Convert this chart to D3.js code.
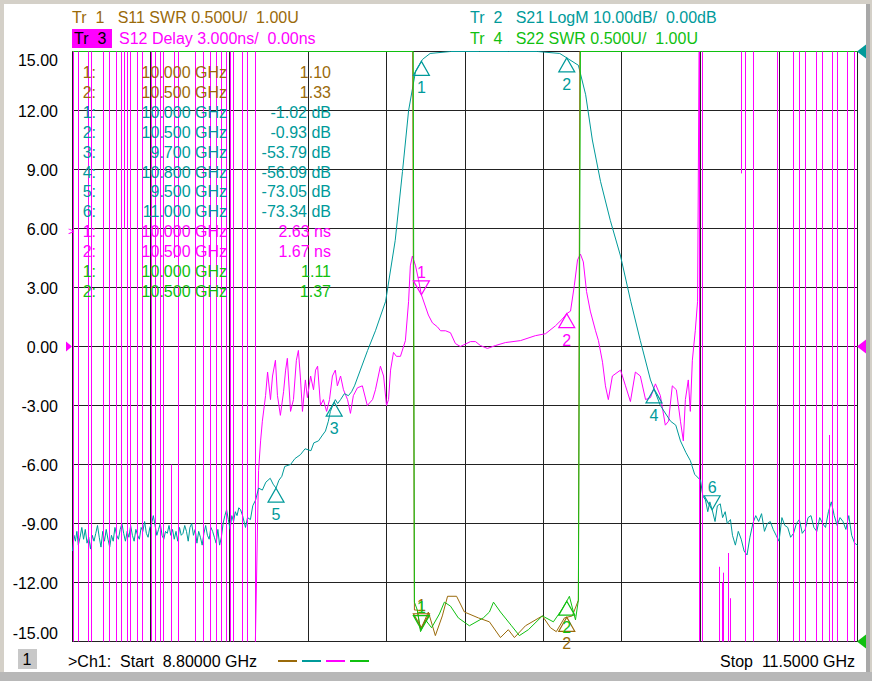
<!DOCTYPE html>
<html><head><meta charset="utf-8">
<script src="https://cdn.jsdelivr.net/npm/d3@7"></script>
<style>body{margin:0;background:#d4d0c8}svg{display:block;font-family:"Liberation Sans",Arial,sans-serif}</style>
</head><body><svg id="c" width="872" height="681"></svg>
<script>
const startGHz=8.8, stopGHz=11.5;
const yTicks=[15,12,9,6,3,0,-3,-6,-9,-12,-15];
const colS11="#9a6a0a", colS21="#009a9a", colS12="#ff00ff", colS22="#10c010";

const s21=[[8.800,-10.4],[8.805,-9.6],[8.810,-9.9],[8.815,-9.4],[8.820,-10.1],[8.826,-9.7],[8.832,-9.2],[8.838,-9.8],[8.844,-9.3],[8.850,-10.0],[8.856,-9.7],[8.862,-10.3],[8.868,-9.6],[8.874,-9.9],[8.880,-9.5],[8.886,-9.1],[8.892,-9.7],[8.898,-10.2],[8.904,-9.4],[8.910,-9.9],[8.916,-9.3],[8.922,-9.8],[8.928,-10.2],[8.934,-9.6],[8.940,-9.9],[8.946,-9.2],[8.952,-9.6],[8.958,-9.8],[8.964,-9.3],[8.970,-9.0],[8.976,-9.5],[8.982,-9.9],[8.988,-9.4],[8.994,-9.7],[9.000,-9.1],[9.006,-9.6],[9.012,-9.9],[9.018,-9.3],[9.024,-9.6],[9.030,-9.8],[9.036,-9.2],[9.042,-9.4],[9.048,-8.9],[9.054,-9.5],[9.060,-9.7],[9.066,-9.2],[9.072,-9.0],[9.078,-8.6],[9.084,-9.1],[9.090,-9.6],[9.096,-9.3],[9.102,-9.0],[9.108,-9.6],[9.114,-9.8],[9.120,-9.4],[9.126,-9.5],[9.132,-9.1],[9.138,-9.6],[9.144,-9.3],[9.150,-9.8],[9.156,-9.4],[9.162,-9.9],[9.168,-9.2],[9.174,-9.6],[9.180,-9.5],[9.186,-9.1],[9.192,-9.4],[9.198,-9.9],[9.204,-9.2],[9.210,-9.0],[9.216,-9.6],[9.222,-9.3],[9.228,-10.0],[9.234,-9.4],[9.240,-9.7],[9.246,-10.1],[9.252,-9.5],[9.258,-9.1],[9.264,-9.6],[9.270,-9.8],[9.276,-9.2],[9.282,-9.4],[9.288,-9.7],[9.294,-10.0],[9.300,-9.3],[9.306,-10.1],[9.312,-9.7],[9.318,-9.0],[9.324,-8.6],[9.330,-8.3],[9.336,-8.8],[9.342,-9.3],[9.348,-8.6],[9.354,-8.9],[9.360,-8.4],[9.366,-8.6],[9.372,-8.2],[9.378,-8.3],[9.385,-8.6],[9.395,-9.2],[9.402,-8.7],[9.412,-8.8],[9.420,-8.1],[9.430,-7.8],[9.440,-7.2],[9.453,-7.3],[9.465,-6.9],[9.48,-6.7],[9.49,-7.0],[9.50,-7.2],[9.51,-6.8],[9.52,-6.6],[9.53,-6.1],[9.55,-6.0],[9.565,-5.7],[9.584,-5.5],[9.60,-5.2],[9.62,-5.3],[9.63,-4.9],[9.646,-4.8],[9.66,-4.5],[9.67,-4.3],[9.68,-3.8],[9.687,-3.3],[9.695,-3.0],[9.704,-2.7],[9.712,-2.9],[9.722,-2.7],[9.735,-2.4],[9.749,-2.5],[9.76,-2.3],[9.77,-2.0],[9.79,-1.2],[9.815,-0.2],[9.842,0.8],[9.877,2.3],[9.91,5.4],[9.935,8.9],[9.956,12.0],[9.98,14.0],[10.004,14.6],[10.03,14.9],[10.10,15.0],[10.2,15.05],[10.3,15.0],[10.4,15.05],[10.476,14.9],[10.54,14.3],[10.565,12.8],[10.588,10.5],[10.616,8.4],[10.65,6.4],[10.685,4.6],[10.72,2.3],[10.753,0.3],[10.788,-1.7],[10.822,-3.0],[10.857,-3.8],[10.875,-4.0],[10.891,-4.8],[10.91,-5.4],[10.925,-5.8],[10.94,-6.5],[10.96,-6.8],[10.968,-7.6],[10.977,-7.8],[10.985,-8.4],[10.992,-7.9],[11.0,-8.3],[11.01,-8.9],[11.018,-8.1],[11.028,-8.0],[11.036,-8.7],[11.045,-8.4],[11.052,-9.0],[11.063,-8.8],[11.07,-9.6],[11.08,-10.1],[11.09,-9.4],[11.10,-9.8],[11.11,-10.4],[11.12,-10.6],[11.13,-9.7],[11.14,-9.0],[11.15,-8.6],[11.16,-8.9],[11.17,-8.5],[11.18,-9.4],[11.19,-9.0],[11.20,-8.9],[11.21,-9.3],[11.22,-9.6],[11.23,-9.9],[11.24,-8.7],[11.25,-9.1],[11.26,-9.2],[11.27,-9.7],[11.28,-9.5],[11.29,-9.0],[11.30,-8.8],[11.31,-9.5],[11.32,-9.3],[11.33,-8.7],[11.34,-8.6],[11.35,-9.2],[11.36,-9.4],[11.37,-8.7],[11.38,-9.0],[11.39,-9.2],[11.40,-8.4],[11.41,-7.9],[11.42,-8.6],[11.43,-9.1],[11.44,-8.7],[11.45,-8.9],[11.46,-9.3],[11.47,-8.6],[11.48,-9.6],[11.49,-10.0],[11.50,-10.1]];

const delaySpikesLow=[8.803,8.821,8.855,8.865,8.907,8.927,8.951,8.969,8.989,8.999,9.024,9.041,9.072,9.085,9.103,9.113,9.165,9.223,9.251,9.275,9.295,9.312,9.330,9.343,9.354,9.385,9.402,9.429];
const delaySpikesHigh=[10.955,10.966,11.114,11.142,11.224,11.279,11.300,11.321,11.359,11.379,11.414,11.431,11.465,11.489];
const delayPartial=[[11.025,-15,-11.2],[11.035,-15,-12.0],[11.058,-15,-10.5],[11.062,-15,-12.8],[11.040,-15,-11.5],[11.405,-15,-4.5],[8.98,15,6.0],[9.15,15,4.5],[9.14,-15,-6.0],[11.10,15,8.8]];
const delayMid=[[9.429,-15],[9.440,-6.3],[9.447,-4.8],[9.453,-3.8],[9.464,-2.5],[9.471,-1.3],[9.481,-2.7],[9.488,-1.5],[9.498,-0.7],[9.505,-2.5],[9.515,-3.5],[9.526,-2.3],[9.533,-1.2],[9.539,-0.6],[9.550,-3.3],[9.560,-2.7],[9.570,-0.7],[9.577,-0.2],[9.584,-1.6],[9.591,-3.3],[9.601,-1.7],[9.608,-2.6],[9.619,-1.5],[9.629,-2.2],[9.636,-1.2],[9.643,-1.0],[9.653,-3.0],[9.663,-2.7],[9.674,-3.3],[9.684,-2.7],[9.694,-1.5],[9.704,-1.2],[9.711,-2.0],[9.722,-1.5],[9.732,-2.2],[9.746,-2.7],[9.756,-3.4],[9.766,-2.5],[9.780,-2.1],[9.797,-2.0],[9.814,-3.0],[9.832,-2.7],[9.842,-2.2],[9.859,-1.0],[9.870,-1.5],[9.880,-3.0],[9.887,-2.7],[9.894,-1.2],[9.904,-0.3],[9.914,-0.5],[9.928,-0.5],[9.945,0.3],[9.956,2.3],[9.962,4.1],[9.969,4.6],[9.980,4.1],[9.990,3.4],[10.000,2.63],[10.024,1.6],[10.038,1.2],[10.055,1.0],[10.066,0.8],[10.083,0.8],[10.100,0.7],[10.117,0.15],[10.134,0.0],[10.169,0.25],[10.186,0.25],[10.203,0.05],[10.227,-0.1],[10.255,0.05],[10.289,0.2],[10.341,0.3],[10.392,0.55],[10.427,0.65],[10.461,1.05],[10.485,1.4],[10.500,1.67],[10.513,1.8],[10.526,3.1],[10.537,4.4],[10.547,4.7],[10.557,4.3],[10.568,2.8],[10.581,1.8],[10.599,0.8],[10.609,0.3],[10.623,-0.8],[10.633,-2.0],[10.643,-2.7],[10.657,-1.5],[10.685,-1.2],[10.702,-2.0],[10.719,-2.8],[10.736,-1.3],[10.753,-1.5],[10.771,-2.7],[10.788,-2.6],[10.805,-1.9],[10.822,-2.5],[10.839,-4.0],[10.850,-3.8],[10.863,-2.0],[10.877,-2.2],[10.891,-3.8],[10.901,-4.8],[10.908,-2.7],[10.918,-1.7],[10.925,-3.3],[10.932,-0.7],[10.942,0.8],[10.950,2.3],[10.955,15]];

const s11=[[8.80,20],[9.970,20],[9.976,-13.4],[9.986,-13.4],[9.997,-14.4],[10.024,-13.5],[10.048,-14.7],[10.072,-13.7],[10.090,-12.7],[10.121,-12.7],[10.148,-13.5],[10.196,-13.8],[10.234,-14.0],[10.272,-14.8],[10.299,-14.4],[10.320,-14.8],[10.358,-14.2],[10.416,-13.7],[10.444,-14.3],[10.464,-14.5],[10.492,-13.8],[10.519,-13.7],[10.540,-12.9],[10.545,20],[11.50,20]];
const s22=[[8.80,20],[9.972,20],[9.976,-13.0],[9.986,-13.4],[9.997,-14.5],[10.014,-13.9],[10.035,-14.3],[10.062,-13.6],[10.079,-13.0],[10.100,-13.2],[10.127,-13.8],[10.165,-14.2],[10.213,-13.8],[10.234,-13.5],[10.248,-13.0],[10.272,-13.5],[10.310,-14.2],[10.337,-14.7],[10.368,-14.4],[10.416,-13.7],[10.454,-14.0],[10.482,-13.4],[10.502,-12.9],[10.509,-12.7],[10.530,-13.9],[10.540,-12.9],[10.547,20],[11.50,20]];

const markerTable=[
 {n:"1:",f:"10.000 GHz",v:"1.10",c:colS11},
 {n:"2:",f:"10.500 GHz",v:"1.33",c:colS11},
 {n:"1:",f:"10.000 GHz",v:"-1.02 dB",c:colS21},
 {n:"2:",f:"10.500 GHz",v:"-0.93 dB",c:colS21},
 {n:"3:",f:"9.700 GHz",v:"-53.79 dB",c:colS21},
 {n:"4:",f:"10.800 GHz",v:"-56.09 dB",c:colS21},
 {n:"5:",f:"9.500 GHz",v:"-73.05 dB",c:colS21},
 {n:"6:",f:"11.000 GHz",v:"-73.34 dB",c:colS21},
 {n:"1:",f:"10.000 GHz",v:"2.63 ns",c:colS12,act:true},
 {n:"2:",f:"10.500 GHz",v:"1.67 ns",c:colS12},
 {n:"1:",f:"10.000 GHz",v:"1.11",c:colS22},
 {n:"2:",f:"10.500 GHz",v:"1.37",c:colS22}];

const svg=d3.select("#c");
svg.append("rect").attr("x",4).attr("y",4).attr("width",862).attr("height",668).attr("fill","#fff");
svg.append("rect").attr("x",866).attr("y",4).attr("width",4).attr("height",668).attr("fill","#a8a8a8");
const x=d3.scaleLinear().domain([startGHz,stopGHz]).range([72.5,857.5]);
const y=d3.scaleLinear().domain([-15,15]).range([641.5,51.5]).clamp(true);
const snap=v=>Math.round(v-0.5)+0.5;

const g=svg.append("g").attr("shape-rendering","crispEdges");
d3.range(11).forEach(i=>{const gx=snap(x(startGHz+i*(stopGHz-startGHz)/10));
 g.append("line").attr("x1",gx).attr("x2",gx).attr("y1",51).attr("y2",642).attr("stroke","#222");});
yTicks.forEach(t=>{const gy=snap(y(t));g.append("line").attr("x1",72).attr("x2",858).attr("y1",gy).attr("y2",gy).attr("stroke","#222");});
yTicks.forEach(t=>{let ty=y(t)+6; if(t===15)ty=66; if(t===-15)ty=639;
 svg.append("text").attr("x",58).attr("y",ty).attr("text-anchor","end").attr("font-size",16).attr("fill","#000").text(t.toFixed(2));});

const line=d3.line().x(d=>x(d[0])).y(d=>y(d[1]));
function draw(data,col){svg.append("path").attr("d",line(data)).attr("fill","none").attr("stroke",col).attr("stroke-width",1);}

draw(delayMid,colS12);
draw(s21,colS21);
draw(s11,colS11);
draw(s22,colS22);

// delay wrap spikes as one path, drawn on top
const spikeD=delaySpikesLow.concat(delaySpikesHigh).map(f=>`M${snap(x(f))},${y(15)}V${y(-15)}`).join("")
 + delayPartial.map(d=>`M${snap(x(d[0]))},${y(d[1])}V${y(d[2])}`).join("");
svg.append("path").attr("d",spikeD).attr("fill","none").attr("stroke",colS12).attr("stroke-width",1);

function interp(data,f){for(let i=1;i<data.length;i++){if(data[i][0]>=f){const a=data[i-1],b=data[i];const t=(f-a[0])/(b[0]-a[0]||1);return a[1]+t*(b[1]-a[1]);}}return data[data.length-1][1];}
function marker(data,f,label,col,down){const px=x(f),py=y(interp(data,f));
 if(down){svg.append("path").attr("d",`M${px},${py}l-8,-14h16z`).attr("fill","none").attr("stroke",col).attr("stroke-width",1.2);
  svg.append("text").attr("x",px).attr("y",py-17).attr("text-anchor","middle").attr("font-size",16).attr("fill",col).text(label);}
 else{svg.append("path").attr("d",`M${px},${py}l-8,14h16z`).attr("fill","none").attr("stroke",col).attr("stroke-width",1.2);
  svg.append("text").attr("x",px).attr("y",py+32).attr("text-anchor","middle").attr("font-size",16).attr("fill",col).text(label);}}
marker(s21,10.0,"1",colS21,false);marker(s21,10.5,"2",colS21,false);
marker(s21,9.7,"3",colS21,false);marker(s21,10.8,"4",colS21,false);
marker(s21,9.5,"5",colS21,false);marker(s21,11.0,"6",colS21,true);
marker(delayMid,10.0,"1",colS12,true);marker(delayMid,10.5,"2",colS12,false);
marker(s11,10.0,"1",colS11,true);marker(s11,10.5,"2",colS11,false);
marker(s22,10.0,"1",colS22,true);marker(s22,10.5,"2",colS22,false);

markerTable.forEach((m,i)=>{const ty=78+i*19.9;
 svg.append("text").attr("x",96).attr("y",ty).attr("text-anchor","end").attr("font-size",16).attr("fill",m.c).text(m.n);
 svg.append("text").attr("x",227).attr("y",ty).attr("text-anchor","end").attr("font-size",16).attr("fill",m.c).text(m.f);
 svg.append("text").attr("x",331).attr("y",ty).attr("text-anchor","end").attr("font-size",16).attr("fill",m.c).text(m.v);
 if(m.act)svg.append("text").attr("x",68).attr("y",ty-2).attr("font-size",11).attr("fill",m.c).text(">");});

svg.append("path").attr("d",`M857,${y(0)}l9,-7v14z`).attr("fill",colS12);
svg.append("path").attr("d",`M72,${y(0)}l-6,-5v10z`).attr("fill",colS12);
svg.append("path").attr("d",`M857,${y(15)}l9,-7v14z`).attr("fill",colS21);
svg.append("path").attr("d",`M857,${y(-15)}l9,-7v14z`).attr("fill",colS22);

const hdr=[{t:"Tr  1   S11 SWR 0.500U/  1.00U",x:72,y:23,c:colS11},{t:"Tr  2   S21 LogM 10.00dB/  0.00dB",x:470,y:23,c:colS21},
 {t:"S12 Delay 3.000ns/  0.00ns",x:119,y:44,c:colS12},{t:"Tr  4   S22 SWR 0.500U/  1.00U",x:470,y:44,c:colS22}];
svg.append("rect").attr("x",72).attr("y",29).attr("width",40).attr("height",19).attr("fill",colS12);
svg.append("text").attr("x",74).attr("y",44).attr("font-size",16).attr("fill","#000").style("white-space","pre").text("Tr  3");
hdr.forEach(h=>svg.append("text").attr("x",h.x).attr("y",h.y).attr("font-size",16).attr("fill",h.c).style("white-space","pre").text(h.t));

svg.append("rect").attr("x",18).attr("y",649).attr("width",19).attr("height",20).attr("fill","#c8c8c8");
svg.append("text").attr("x",27).attr("y",665).attr("text-anchor","middle").attr("font-size",16).attr("fill","#000").text("1");
svg.append("text").attr("x",68).attr("y",667).attr("font-size",16).attr("fill","#000").style("white-space","pre").text(">Ch1:  Start  8.80000 GHz");
[colS11,colS21,colS12,colS22].forEach((c,i)=>svg.append("line").attr("x1",278+i*24).attr("x2",297+i*24).attr("y1",661).attr("y2",661).attr("stroke",c).attr("stroke-width",2));
svg.append("text").attr("x",855).attr("y",667).attr("text-anchor","end").attr("font-size",16).attr("fill","#000").style("white-space","pre").text("Stop  11.5000 GHz");
svg.append("rect").attr("x",0).attr("y",672).attr("width",872).attr("height",9).attr("fill","#b8b8b8");
</script></body></html>
